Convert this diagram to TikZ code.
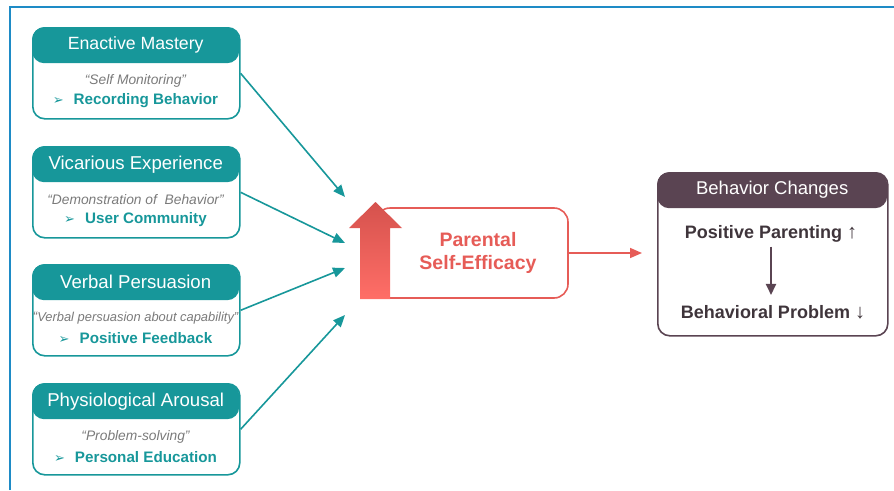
\documentclass[tikz,border=0pt]{standalone}
\usepackage{fontspec}
\setmainfont{Liberation Sans}
\newfontfamily\symfont{DejaVu Sans}
\usetikzlibrary{arrows.meta,positioning}

\definecolor{tealc}{HTML}{17979A}
\definecolor{frameblue}{HTML}{1E8BC6}
\definecolor{pseRed}{HTML}{E65C57}
\definecolor{pseTop}{HTML}{D5524D}
\definecolor{pseBottom}{HTML}{FF6E67}
\definecolor{plum}{HTML}{5A4452}
\definecolor{darktext}{HTML}{3F353B}
\definecolor{quotegray}{HTML}{7A7A7A}

\begin{document}
\begin{tikzpicture}[x=1pt,y=-1pt]
\tikzset{
  card/.style={draw=tealc, line width=1.6pt, rounded corners=12pt, minimum width=207pt, minimum height=91pt, anchor=north west, inner sep=0pt},
  cardhead/.style={fill=tealc, rounded corners=12pt, minimum width=207pt, minimum height=36pt, anchor=north west, text=white, font=\fontsize{18.6}{21}\selectfont},
  quote/.style={text=quotegray, font=\itshape\fontsize{13.8}{16}\selectfont, inner sep=0pt},
  item/.style={text=tealc, font=\bfseries\fontsize{15.2}{18}\selectfont, inner sep=0pt},
  feed/.style={draw=tealc, line width=1.6pt, -{Triangle[length=12pt,width=10pt]}},
  effect/.style={text=darktext, font=\bfseries\fontsize{18}{21}\selectfont, inner sep=0pt}
}
\useasboundingbox (0,0) rectangle (894,490);

% frame
\draw[frameblue, line width=2.6pt] (10,490) -- (10,7) -- (894,7);

% the four sources of self-efficacy
\foreach \i/\y/\title/\quote/\item/\ty in {
  1/27/{\fontsize{17.7}{21}\selectfont Enactive Mastery}/{Self Monitoring}/{Recording Behavior}/197,
  2/146/{Vicarious Experience}/{Demonstration of\ \ Behavior}/{User Community}/243,
  3/264/{Verbal Persuasion}/{\fontsize{12.9}{15}\selectfont Verbal persuasion about capability}/{Positive Feedback}/268,
  4/383/{Physiological Arousal}/{Problem-solving}/{Personal Education}/315}
{
  \node[card] (c\i) at (32,\y) {};
  \node[cardhead] (h\i) at (32,\y) {\title};
  \node[quote] (q\i) at (135.5,\y+54) {``\quote''};
  \node[item] (it\i) at (135.5,\y+74) {{\symfont\fontsize{13}{15}\selectfont ➢}\hspace{10pt}\item};
  \coordinate (in\i) at (345,\ty);
  \draw[feed] (c\i.east) -- (in\i);
}

% parental self-efficacy
\node[draw=pseRed, line width=1.6pt, rounded corners=14pt, minimum width=192pt, minimum height=90pt, inner sep=0pt] (pse) at (472,253) {};
\shade[top color=pseTop, bottom color=pseBottom]
  (360,299) -- (360,228) -- (349,228) -- (375.5,202) -- (402,228) -- (390,228) -- (390,299) -- cycle;
\node[text=pseRed, font=\bfseries\fontsize{19.5}{23.5}\selectfont, align=center] (psetext) at (478,253) {Parental\\Self-Efficacy};

% behavior changes
\node[draw=plum, line width=1.6pt, rounded corners=12pt, minimum width=230pt, minimum height=163pt, anchor=north west, inner sep=0pt] (bc) at (657,172) {};
\node[fill=plum, rounded corners=12pt, minimum width=230pt, minimum height=36pt, anchor=north west, text=white, font=\fontsize{18.5}{21}\selectfont] (bchead) at (657,172) {Behavior Changes};
\node[effect] (pp) at (771,234) {Positive Parenting {\mdseries\fontsize{20}{22}\selectfont ↑}};
\node[effect] (bp) at (773,312) {Behavioral Problem {\mdseries\fontsize{20}{22}\selectfont ↓}};
\draw[draw=plum, line width=2pt, -{Triangle[length=11pt,width=10pt]}, shorten <=4pt, shorten >=10pt] (pp.south -| 771,0) -- (bp.north -| 771,0);

\draw[draw=pseRed, line width=1.6pt, -{Triangle[length=12pt,width=10pt]}, shorten >=15pt] (pse.east) -- (pse.east -| bc.west);
\end{tikzpicture}
\end{document}
